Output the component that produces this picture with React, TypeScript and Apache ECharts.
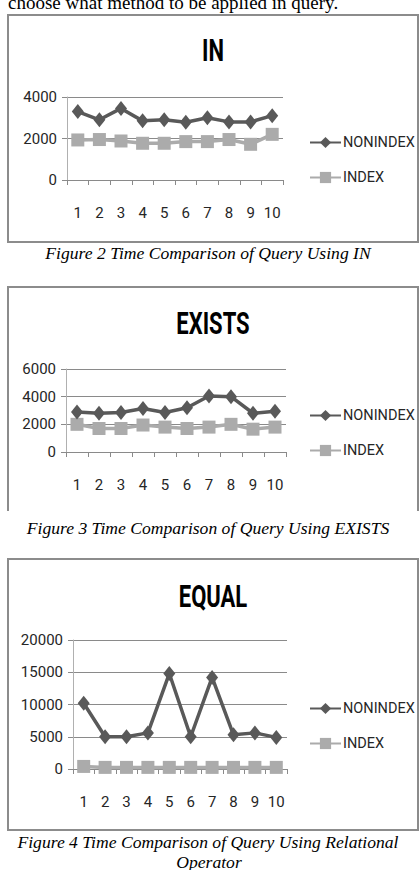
import React, { useEffect, useRef } from "react";
import * as echarts from "echarts";

const categories = ["1", "2", "3", "4", "5", "6", "7", "8", "9", "10"];
const seriesNames = ["NONINDEX", "INDEX"];

const inNonIndex = [3300, 2900, 3450, 2850, 2900, 2780, 3000, 2800, 2800, 3100];
const inIndex = [1930, 1950, 1880, 1770, 1770, 1850, 1850, 1950, 1720, 2200];

const existsNonIndex = [2900, 2800, 2850, 3150, 2850, 3200, 4050, 4000, 2800, 2950];
const existsIndex = [2000, 1700, 1700, 1950, 1800, 1700, 1800, 2000, 1650, 1800];

const equalNonIndex = [10200, 5000, 5000, 5600, 14800, 5000, 14200, 5300, 5600, 4900];
const equalIndex = [400, 250, 250, 250, 250, 250, 250, 250, 250, 250];

const titles = ["IN", "EXISTS", "EQUAL"];
const captions = [
  "Figure 2 Time Comparison of Query Using IN",
  "Figure 3 Time Comparison of Query Using EXISTS",
  "Figure 4 Time Comparison of Query Using Relational",
];
const captionTail = "Operator";
const topText = "choose what method to be applied in query.";

const yMax = [4000, 6000, 20000];
const yInterval = [2000, 2000, 5000];

const SANS = 'Roboto, "Liberation Sans", sans-serif';
const SERIF = '"Liberation Serif", "Times New Roman", serif';
const DARK = "#595959";
const LIGHT = "#ababab";
const GRID = "#8a8a8a";
const BORDER = "#8c8c8c";

export default function App() {
  const ref = useRef<HTMLDivElement>(null);

  useEffect(() => {
    if (!ref.current) return;
    const chart = echarts.init(ref.current, undefined, { renderer: "svg" });

    const grids = [
      { left: 67, top: 97, width: 216, height: 83 },
      { left: 66, top: 369, width: 220, height: 83 },
      { left: 73, top: 640, width: 214, height: 129 },
    ];
    const data = [
      [inNonIndex, inIndex],
      [existsNonIndex, existsIndex],
      [equalNonIndex, equalIndex],
    ];
    const legendTops = [130, 403, 696];
    const titleY = [51, 324, 597];
    const captionY = [253, 528, 842];

    const xAxis = grids.map((_, i) => ({
      type: "category",
      gridIndex: i,
      data: categories,
      axisLine: { show: true, lineStyle: { color: GRID, width: 1 } },
      axisTick: { show: true, length: 5, interval: 0, lineStyle: { color: GRID } },
      axisLabel: { fontFamily: SANS, fontSize: 15, color: "#262626", margin: 25, interval: 0 },
    }));
    const yAxis = grids.map((_, i) => ({
      type: "value",
      gridIndex: i,
      min: 0,
      max: yMax[i],
      interval: yInterval[i],
      axisLine: { show: true, lineStyle: { color: "#b0b0b0", width: 1 } },
      axisTick: { show: true, length: 5, lineStyle: { color: GRID } },
      axisLabel: {
        fontFamily: SANS,
        fontSize: 15,
        color: "#262626",
        margin: 10,
        formatter: (v: number) => String(v),
      },
      splitLine: { show: true, lineStyle: { color: GRID, width: 1 } },
    }));

    const series: any[] = [];
    data.forEach((pair, i) => {
      series.push({
        name: seriesNames[0],
        type: "line",
        xAxisIndex: i,
        yAxisIndex: i,
        data: pair[0],
        symbol: "diamond",
        symbolSize: [12, 15],
        showSymbol: true,
        showAllSymbol: true,
        itemStyle: { color: DARK },
        lineStyle: { color: DARK, width: 3.5 },
        z: 3,
      });
      series.push({
        name: seriesNames[1],
        type: "line",
        xAxisIndex: i,
        yAxisIndex: i,
        data: pair[1],
        symbol: "rect",
        symbolSize: 13,
        showSymbol: true,
        showAllSymbol: true,
        itemStyle: { color: LIGHT },
        lineStyle: { color: LIGHT, width: 3.5 },
        z: 2,
      });
    });

    const legend = legendTops.map((t) => ({
      orient: "vertical",
      left: 304,
      top: t,
      itemWidth: 31,
      itemHeight: 14,
      itemGap: 20,
      data: seriesNames,
      textStyle: { fontFamily: SANS, fontSize: 14.5, color: "#262626", padding: [0, 0, 0, -3] },
    }));

    const graphic: any[] = [
      {
        type: "text",
        x: 8,
        y: 12,
        style: {
          text: topText,
          font: `19px ${SERIF}`,
          fill: "#000",
          textAlign: "left",
          textVerticalAlign: "bottom",
        },
      },
      {
        type: "rect",
        shape: { x: 8, y: 15, width: 410, height: 227 },
        style: { fill: "none", stroke: BORDER, lineWidth: 2 },
      },
      {
        type: "polyline",
        shape: { points: [[8, 511], [8, 287], [418, 287], [418, 511]] },
        style: { fill: "none", stroke: BORDER, lineWidth: 2 },
      },
      {
        type: "rect",
        shape: { x: 8, y: 559, width: 410, height: 271 },
        style: { fill: "none", stroke: BORDER, lineWidth: 2 },
      },
    ];
    titles.forEach((t, i) => {
      graphic.push({
        type: "text",
        x: 213,
        y: titleY[i],
        scaleY: 1.4,
        style: {
          text: t,
          font: `bold 22px ${SANS}`,
          fill: "#000",
          textAlign: "center",
          textVerticalAlign: "middle",
        },
      });
    });
    captions.forEach((c, i) => {
      graphic.push({
        type: "text",
        x: 208,
        y: captionY[i],
        style: {
          text: c,
          font: `italic 17.6px ${SERIF}`,
          fill: "#000",
          textAlign: "center",
          textVerticalAlign: "middle",
        },
      });
    });
    graphic.push({
      type: "text",
      x: 209,
      y: 862,
      style: {
        text: captionTail,
        font: `italic 17.6px ${SERIF}`,
        fill: "#000",
        textAlign: "center",
        textVerticalAlign: "middle",
      },
    });

    chart.setOption({
      animation: false,
      backgroundColor: "#fff",
      grid: grids,
      xAxis,
      yAxis,
      series,
      legend,
      graphic,
    });

    return () => chart.dispose();
  }, []);

  return (
    <div
      ref={ref}
      style={{ position: "fixed", left: 0, top: 0, width: 420, height: 870 }}
    />
  );
}
